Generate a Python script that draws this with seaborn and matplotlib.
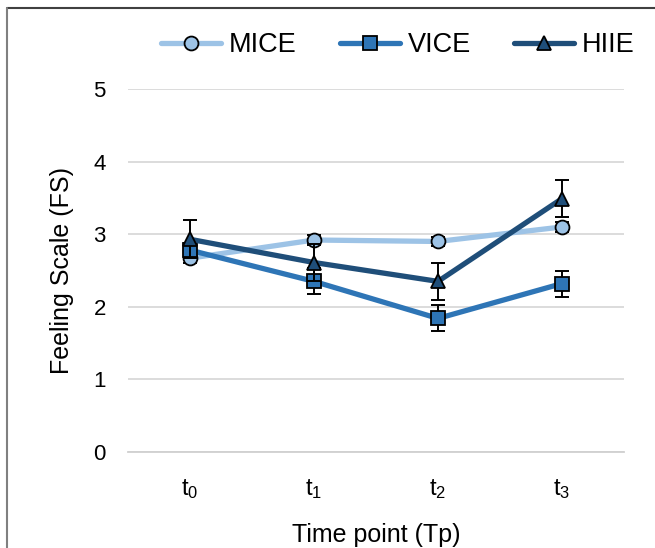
import pandas as pd
import matplotlib
matplotlib.use("Agg")
import matplotlib.pyplot as plt
import seaborn as sns
from matplotlib.lines import Line2D

# data (mean and SE per time point)
timepoints = ["$t_0$", "$t_1$", "$t_2$", "$t_3$"]
groups = ["MICE", "VICE", "HIIE"]
mice = [2.67, 2.92, 2.90, 3.10]
mice_se = [0.06, 0.07, 0.06, 0.07]
vice = [2.78, 2.35, 1.84, 2.32]
vice_se = [0.10, 0.18, 0.18, 0.18]
hiie = [2.93, 2.61, 2.35, 3.49]
hiie_se = [0.26, 0.25, 0.25, 0.25]

colors = {"MICE": "#9DC3E6", "VICE": "#2E75B6", "HIIE": "#1F4E79"}
markers = {"MICE": "o", "VICE": "s", "HIIE": "^"}

df = pd.DataFrame({
    "tp": list(range(4)) * 3,
    "fs": mice + vice + hiie,
    "se": mice_se + vice_se + hiie_se,
    "group": [g for g in groups for _ in range(4)],
})

sns.set_style("white")
plt.rcParams["font.family"] = ["Liberation Sans", "DejaVu Sans"]
plt.rcParams["mathtext.default"] = "regular"
plt.rcParams["text.color"] = "black"
plt.rcParams["axes.labelcolor"] = "black"
plt.rcParams["xtick.color"] = "black"
plt.rcParams["ytick.color"] = "black"

fig = plt.figure(figsize=(6.55, 5.48), dpi=100)
ax = fig.add_axes([128 / 655, (548 - 452) / 548, 496 / 655, 363 / 548])

for i, g in enumerate(groups):
    d = df[df["group"] == g]
    ax.errorbar(d["tp"], d["fs"], yerr=d["se"], fmt="none", ecolor="black",
                elinewidth=1.4, capsize=5, capthick=1.4, zorder=2 + i)
    sns.lineplot(data=d, x="tp", y="fs", ax=ax, color=colors[g], lw=3.8,
                 marker=markers[g], markersize=10, markeredgecolor="black",
                 markeredgewidth=1.3, label=g, zorder=2.5 + i)

ax.set_xlim(-0.5, 3.5)
ax.set_ylim(0, 5)
ax.set_yticks(range(6))
ax.set_xticks(range(4))
ax.set_xticklabels(timepoints)
ax.tick_params(axis="y", length=0, labelsize=16, pad=16)
ax.tick_params(axis="x", length=0, labelsize=17, pad=18)
ax.yaxis.grid(True, color="#D9D9D9", lw=1.3)
ax.set_axisbelow(True)
for s in ["top", "right", "left"]:
    ax.spines[s].set_visible(False)
ax.spines["bottom"].set_color("#D0D0D0")
ax.spines["bottom"].set_linewidth(1.3)
ax.set_xlabel("Time point (Tp)", fontsize=18, labelpad=16)
ax.set_ylabel("Feeling Scale (FS)", fontsize=18, labelpad=14)

leg = ax.legend(loc="center", bbox_to_anchor=(398 / 655, 1 - 45 / 548),
                bbox_transform=fig.transFigure, ncol=3, frameon=False,
                fontsize=19.5, handlelength=2.2, columnspacing=1.6,
                handletextpad=0.3)

# border remains from the original panel
fig.add_artist(Line2D([7 / 655, 1], [1 - 8 / 548, 1 - 8 / 548],
                      color="#404040", lw=1.5, transform=fig.transFigure))
fig.add_artist(Line2D([7 / 655, 7 / 655], [0, 1 - 8 / 548],
                      color="#808080", lw=1.5, transform=fig.transFigure))

fig.savefig("out.png", dpi=100)
